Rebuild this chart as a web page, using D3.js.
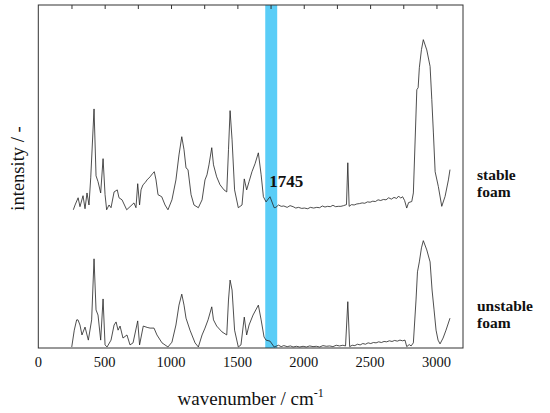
<!DOCTYPE html>
<html>
<head>
<meta charset="utf-8">
<script src="https://cdn.jsdelivr.net/npm/d3@7"></script>
<style>
  body { margin: 0; background: #fff; }
  text { font-family: "Liberation Serif", "Times New Roman", serif; fill: #111; }
</style>
</head>
<body>
<div id="app"></div>
<script>
// wavenumber (cm-1), intensity (a.u.)
const stableFoam = [
  [264, 0.3], [277, 1.7], [300, 3.8], [314, 1.2], [337, 4.4], [352, 0.6], [367, 5.2],
  [382, 1.7], [395, 9.6], [420, 29.7], [435, 10.2], [450, 8.5], [470, 5.2], [488, 15.2],
  [503, 4.7], [515, 0.3], [533, 1.7], [548, 0.9], [571, 5.5], [595, 6.1], [608, 3.8],
  [631, 3.2], [666, 0.3], [691, 1.2], [721, 2.3], [736, 0.9], [749, 7.9], [763, 1.7],
  [774, 6.1], [789, 7.6], [805, 8.2], [819, 9.0], [842, 9.9], [860, 10.8], [874, 11.4],
  [887, 9.0], [902, 4.7], [930, 4.1], [955, 1.7], [977, 0.3], [1007, 3.2], [1037, 9.0],
  [1060, 16.3], [1081, 21.6], [1098, 17.8], [1113, 12.5], [1128, 12.0], [1151, 4.7],
  [1173, 1.7], [1206, 0.9], [1234, 3.2], [1256, 9.0], [1271, 10.5], [1286, 13.4],
  [1307, 18.4], [1320, 13.4], [1344, 9.9], [1369, 7.6], [1399, 6.1], [1420, 5.5],
  [1433, 17.8], [1445, 29.2], [1460, 20.7], [1479, 6.1], [1507, 0.9], [1535, 1.7],
  [1552, 9.3], [1570, 6.1], [1588, 8.5], [1610, 11.4], [1633, 13.7], [1658, 16.9],
  [1679, 10.5], [1696, 4.1], [1716, 2.6], [1746, 4.1], [1777, 0.9], [1790, 1.0],
  [1810, 1.7], [1830, 1.3], [1850, 1.4], [1875, 1.0], [1897, 1.5], [1920, 1.2],
  [1940, 0.8], [1960, 1.0], [1985, 0.7], [2005, 0.8], [2030, 0.6], [2050, 1.0],
  [2075, 0.8], [2098, 1.0], [2120, 0.9], [2140, 1.4], [2160, 1.1], [2180, 1.3],
  [2200, 1.2], [2220, 1.6], [2240, 1.2], [2260, 1.3], [2280, 1.3], [2300, 1.5],
  [2322, 1.8], [2332, 14.0], [2342, 1.3], [2360, 1.8], [2380, 1.7], [2400, 2.0],
  [2420, 2.1], [2440, 2.3], [2460, 2.2], [2480, 2.6], [2500, 2.5], [2520, 2.8],
  [2540, 2.7], [2560, 3.2], [2580, 3.0], [2600, 3.3], [2620, 3.2], [2640, 3.8],
  [2660, 3.4], [2680, 3.9], [2700, 3.6], [2715, 4.3], [2730, 3.7], [2745, 4.1],
  [2760, 3.0], [2776, 0.8], [2790, 2.4], [2814, 2.7], [2826, 5.2], [2852, 35.3],
  [2862, 35.9], [2871, 41.7], [2887, 47.0], [2901, 49.9], [2927, 46.9], [2952, 42.1],
  [2965, 32.4], [2977, 22.7], [2990, 11.4], [3014, 7.1], [3040, 1.3], [3065, 4.2],
  [3090, 9.0], [3102, 12.0]
];

const unstableFoam = [
  [252, 0.3], [271, 5.2], [289, 8.2], [299, 8.2], [314, 6.7], [329, 3.8], [352, 6.1],
  [377, 2.3], [402, 8.2], [420, 26.0], [435, 11.1], [450, 9.6], [470, 2.3], [488, 14.3],
  [503, 0.9], [518, 0.3], [548, 2.3], [571, 6.7], [586, 7.6], [601, 5.2], [616, 6.4],
  [638, 2.9], [668, 3.8], [691, 0.9], [714, 1.5], [749, 7.9], [763, 0.9], [791, 6.4],
  [820, 6.0], [842, 5.8], [872, 5.8], [894, 3.8], [932, 1.5], [977, 0.3], [1007, 1.7],
  [1037, 6.7], [1060, 12.5], [1081, 15.7], [1098, 12.5], [1113, 8.7], [1143, 5.2],
  [1181, 1.5], [1206, 0.3], [1234, 3.8], [1256, 5.8], [1279, 8.2], [1307, 12.0],
  [1320, 8.2], [1344, 6.4], [1384, 4.7], [1420, 3.8], [1433, 14.0], [1445, 19.8],
  [1460, 16.9], [1479, 5.2], [1507, 0.3], [1527, 0.9], [1552, 9.0], [1570, 3.8],
  [1588, 6.7], [1618, 9.6], [1658, 12.5], [1679, 8.2], [1701, 3.2], [1716, 2.3],
  [1746, 2.0], [1777, 0.3], [1790, 0.5], [1810, 0.8], [1830, 0.4], [1850, 0.7],
  [1875, 0.4], [1900, 0.6], [1920, 0.3], [1945, 0.5], [1970, 0.3], [1995, 0.5],
  [2020, 0.3], [2045, 0.6], [2070, 0.4], [2095, 0.5], [2120, 0.3], [2145, 0.7],
  [2170, 0.5], [2195, 0.6], [2220, 0.4], [2245, 0.8], [2270, 0.6], [2295, 0.8],
  [2315, 0.6], [2332, 13.5], [2346, 0.4], [2365, 0.8], [2385, 0.7], [2405, 1.1],
  [2425, 0.9], [2445, 1.3], [2465, 1.1], [2485, 1.5], [2505, 1.3], [2525, 1.6],
  [2545, 1.5], [2565, 1.8], [2585, 1.6], [2605, 1.9], [2625, 1.8], [2645, 2.1],
  [2665, 1.9], [2685, 2.2], [2705, 2.0], [2725, 2.3], [2745, 2.1], [2763, 2.3],
  [2776, 0.4], [2795, 1.0], [2809, 0.6], [2826, 1.5], [2846, 14.0], [2857, 22.2],
  [2871, 25.1], [2887, 29.2], [2901, 31.3], [2927, 28.6], [2952, 25.1], [2967, 16.9],
  [2982, 11.1], [2997, 5.2], [3012, 2.3], [3027, 1.2], [3050, 2.9], [3072, 5.2],
  [3102, 8.7]
];

const stableOffset = 40;
const xTickLabels = [0, 500, 1000, 1500, 2000, 2500, 3000];
const minorTicks = d3.range(250, 3001, 250);
const bandRange = [1710, 1800];
const bandLabel = "1745";
const seriesLabels = [["stable", "foam"], ["unstable", "foam"]];

const width = 550;
const height = 413;
const mLeft = 38.3, mRight = 463, mTop = 5, mBottom = 348;

const x = d3.scaleLinear().domain([0, 3200]).range([mLeft, mRight]);
const y = d3.scaleLinear().domain([0, 100]).range([mBottom, mTop]);

const svg = d3
  .select("#app")
  .append("svg")
  .attr("width", width)
  .attr("height", height);

// highlighted carbonyl band
svg
  .append("rect")
  .attr("x", x(bandRange[0]))
  .attr("y", mTop)
  .attr("width", x(bandRange[1]) - x(bandRange[0]))
  .attr("height", mBottom - mTop)
  .attr("fill", "#5acdf7");

const line = d3
  .line()
  .x((d) => x(d[0]))
  .y((d) => y(d[1]));

svg
  .append("path")
  .datum(stableFoam.map((d) => [d[0], d[1] + stableOffset]))
  .attr("d", line)
  .attr("fill", "none")
  .attr("stroke", "#222")
  .attr("stroke-width", 0.8);

svg
  .append("path")
  .datum(unstableFoam)
  .attr("d", line)
  .attr("fill", "none")
  .attr("stroke", "#222")
  .attr("stroke-width", 0.8);

// frame
svg
  .append("rect")
  .attr("x", mLeft)
  .attr("y", mTop)
  .attr("width", mRight - mLeft)
  .attr("height", mBottom - mTop)
  .attr("fill", "none")
  .attr("stroke", "#333")
  .attr("stroke-width", 1);

// inward ticks along the top
svg
  .append("g")
  .attr("transform", `translate(0, ${mTop})`)
  .call(d3.axisBottom(x).tickValues(minorTicks).tickSize(4).tickFormat(""))
  .call((g) => g.select(".domain").remove())
  .call((g) => g.selectAll("line").attr("stroke", "#333"));

svg
  .append("g")
  .selectAll("text")
  .data(xTickLabels)
  .enter()
  .append("text")
  .attr("x", (d) => x(d))
  .attr("y", 367)
  .attr("text-anchor", "middle")
  .style("font-size", "14.5px")
  .text((d) => d);

const xTitle = svg
  .append("text")
  .attr("x", (mLeft + mRight) / 2)
  .attr("y", 405)
  .attr("text-anchor", "middle")
  .style("font-size", "19px");
xTitle.append("tspan").text("wavenumber / cm");
xTitle.append("tspan").attr("dy", -8).style("font-size", "12px").text("-1");

svg
  .append("text")
  .attr("transform", `translate(24, 168.5) rotate(-90)`)
  .attr("text-anchor", "middle")
  .style("font-size", "18.5px")
  .text("intensity / -");

svg
  .append("text")
  .attr("x", x(1740))
  .attr("y", y(47))
  .style("font-size", "17px")
  .style("font-weight", "bold")
  .text(bandLabel);

const labelY = [179.5, 310.5];
seriesLabels.forEach((lines, i) => {
  lines.forEach((l, j) => {
    svg
      .append("text")
      .attr("x", mRight + 14)
      .attr("y", labelY[i] + j * 17.4)
      .style("font-size", "15.5px")
      .style("font-weight", "bold")
      .text(l);
  });
});
</script>
</body>
</html>
